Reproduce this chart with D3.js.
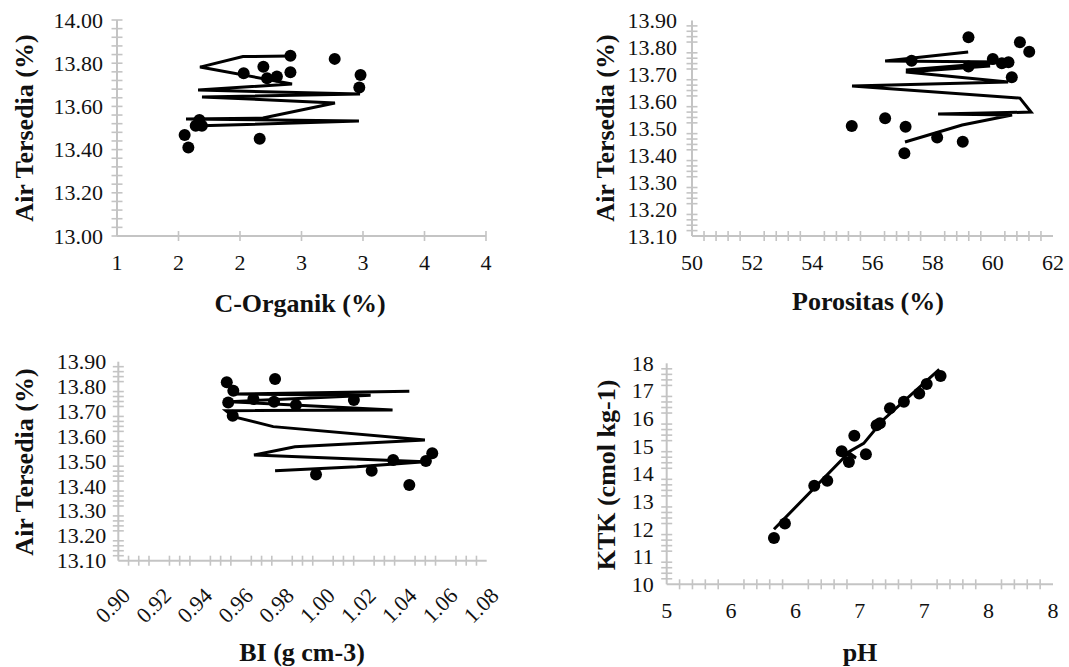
<!DOCTYPE html>
<html>
<head>
<meta charset="utf-8">
<script src="https://cdn.jsdelivr.net/npm/d3@7"></script>
<style>
  body { margin: 0; background: #fff; }
  svg { display: block; }
  text { font-family: "Liberation Serif", "Times New Roman", serif; fill: #111; }
</style>
</head>
<body>
<svg width="1069" height="667"></svg>
<script>
// C-Organik vs Air Tersedia
const cOrganikPoints = [
  [2.41, 13.835], [2.77, 13.82], [2.19, 13.784], [2.03, 13.753], [2.41, 13.758],
  [2.22, 13.73], [2.30, 13.738], [2.98, 13.745], [2.97, 13.688], [1.67, 13.537],
  [1.64, 13.51], [1.69, 13.51], [1.55, 13.468], [1.58, 13.41], [2.16, 13.45]
];
const cOrganikLine = [
  [2.407, 13.833], [2.024, 13.831], [1.675, 13.782], [2.423, 13.704], [1.659, 13.676],
  [2.976, 13.657], [1.691, 13.644], [2.772, 13.616], [2.187, 13.546], [1.561, 13.542],
  [2.967, 13.532], [1.610, 13.509]
];
const cOrganikXTicks = [1, 1.5, 2, 2.5, 3, 3.5, 4];
const cOrganikXLabels = ["1", "2", "2", "3", "3", "4", "4"];
const cOrganikYTicks = [13.0, 13.2, 13.4, 13.6, 13.8, 14.0];
const cOrganikYLabels = ["13.00", "13.20", "13.40", "13.60", "13.80", "14.00"];

// Porositas vs Air Tersedia
const porositasPoints = [
  [59.19, 13.838], [60.90, 13.819], [61.21, 13.784], [57.30, 13.751], [60.00, 13.757],
  [60.30, 13.741], [60.52, 13.745], [59.19, 13.729], [60.63, 13.689], [55.31, 13.508],
  [56.42, 13.537], [57.10, 13.506], [58.15, 13.466], [59.00, 13.450], [57.06, 13.407]
];
const porositasLine = [
  [59.18, 13.783], [56.42, 13.750], [60.41, 13.746], [57.11, 13.716], [59.91, 13.731],
  [57.11, 13.709], [60.51, 13.672], [55.32, 13.657], [60.90, 13.612], [61.27, 13.560],
  [58.18, 13.553], [60.64, 13.549], [58.98, 13.512], [57.08, 13.449]
];
const porositasXTicks = [50, 52, 54, 56, 58, 60, 62];
const porositasXLabels = ["50", "52", "54", "56", "58", "60", "62"];
const airYTicks = [13.1, 13.2, 13.3, 13.4, 13.5, 13.6, 13.7, 13.8, 13.9];
const airYLabels = ["13.10", "13.20", "13.30", "13.40", "13.50", "13.60", "13.70", "13.80", "13.90"];

// BI vs Air Tersedia
const biPoints = [
  [0.9530, 13.817], [0.9766, 13.830], [0.9562, 13.783], [0.9537, 13.736], [0.9660, 13.750],
  [0.9761, 13.739], [0.9868, 13.726], [1.0151, 13.746], [0.9559, 13.683], [1.0534, 13.532],
  [1.0343, 13.505], [1.0503, 13.501], [0.9966, 13.447], [1.0238, 13.462], [1.0422, 13.404]
];
const biLine = [
  [1.0422, 13.781], [0.9570, 13.770], [1.0233, 13.765], [0.9542, 13.739], [1.0340, 13.706],
  [0.9526, 13.703], [0.9562, 13.679], [0.9757, 13.639], [1.0498, 13.585], [0.9863, 13.558],
  [0.9663, 13.525], [1.0498, 13.498], [1.0165, 13.478], [0.9766, 13.462]
];
const biXTicks = [0.90, 0.92, 0.94, 0.96, 0.98, 1.00, 1.02, 1.04, 1.06, 1.08];
const biXLabels = ["0.90", "0.92", "0.94", "0.96", "0.98", "1.00", "1.02", "1.04", "1.06", "1.08"];

// pH vs KTK
const phPoints = [
  [5.833, 11.68], [5.918, 12.20], [6.146, 13.57], [6.247, 13.75], [6.359, 14.82],
  [6.415, 14.43], [6.457, 15.38], [6.547, 14.71], [6.630, 15.76], [6.656, 15.83],
  [6.734, 16.37], [6.842, 16.61], [6.961, 16.91], [7.019, 17.25], [7.127, 17.54]
];
const phLine = [
  [5.833, 11.99], [6.40, 14.70], [6.47, 14.58], [6.41, 14.78], [6.53, 15.10],
  [6.68, 15.95], [7.117, 17.78]
];
const phXTicks = [5, 5.5, 6, 6.5, 7, 7.5, 8];
const phXLabels = ["5", "6", "6", "7", "7", "8", "8"];
const ktkYTicks = [10, 11, 12, 13, 14, 15, 16, 17, 18];
const ktkYLabels = ["10", "11", "12", "13", "14", "15", "16", "17", "18"];

const svg = d3.select("svg");
const gridColor = "#c4c4c4";

function steps(lo, hi, step) {
  const n = Math.round((hi - lo) / step);
  return d3.range(n + 1).map(i => lo + i * step);
}

function drawPanel(p) {
  const x = d3.scaleLinear().domain(p.xDomain).range(p.xRange);
  const y = d3.scaleLinear().domain(p.yDomain).range(p.yRange);
  const g = svg.append("g");
  const y0 = y(p.yDomain[0]), x0 = x(p.xDomain[0]);
  const isMajor = (v, ticks) => ticks.some(t => Math.abs(t - v) < 1e-9);

  // x ticks
  let xt = p.xMinor ? steps(p.xDomain[0], p.xDomain[1], p.xMinor) : p.xTicks;
  if (p.xMinor) xt = xt.filter(v => !isMajor(v, p.xTicks));
  else xt = xt.filter(v => v !== p.xDomain[0]);
  g.selectAll(".xt").data(xt).enter().append("line")
    .attr("x1", d => x(d)).attr("x2", d => x(d))
    .attr("y1", y0 - 5).attr("y2", y0 + 5)
    .attr("stroke", gridColor).attr("stroke-width", 1.6);

  // y ticks
  let yt = steps(p.yDomain[0], p.yDomain[1], p.yMinor);
  if (p.skipYMajor) yt = yt.filter(v => !isMajor(v, p.yTicks));
  g.selectAll(".yt").data(yt).enter().append("line")
    .attr("x1", x0 - 5.5).attr("x2", x0 + 5.5)
    .attr("y1", d => y(d)).attr("y2", d => y(d))
    .attr("stroke", gridColor).attr("stroke-width", 1.6);

  // axis lines
  g.append("line").attr("x1", x0).attr("x2", x(p.xDomain[1]))
    .attr("y1", y0).attr("y2", y0).attr("stroke", gridColor).attr("stroke-width", 2);
  g.append("line").attr("x1", x0).attr("x2", x0)
    .attr("y1", y0).attr("y2", y(p.yDomain[1])).attr("stroke", gridColor).attr("stroke-width", 2);

  // y labels
  g.selectAll(".yl").data(p.yTicks).enter().append("text")
    .attr("x", x0 - p.yLabelGap).attr("y", d => y(d))
    .attr("text-anchor", "end").attr("dominant-baseline", "central")
    .attr("font-size", 22)
    .text((d, i) => p.yLabels[i]);

  // x labels
  if (p.rotateX) {
    g.selectAll(".xl").data(p.xTicks).enter().append("text")
      .attr("transform", d => `translate(${x(d) + 8},${y0 + 31}) rotate(-45)`)
      .attr("text-anchor", "end").attr("dominant-baseline", "central")
      .attr("font-size", 22)
      .text((d, i) => p.xLabels[i]);
  } else {
    g.selectAll(".xl").data(p.xTicks).enter().append("text")
      .attr("x", d => x(d)).attr("y", y0 + 26)
      .attr("text-anchor", "middle").attr("dominant-baseline", "central")
      .attr("font-size", 22)
      .text((d, i) => p.xLabels[i]);
  }

  // titles
  g.append("text").attr("x", p.xTitlePos[0]).attr("y", p.xTitlePos[1])
    .attr("text-anchor", "middle").attr("dominant-baseline", "central")
    .attr("font-size", 26).attr("font-weight", "bold").text(p.xTitle);
  g.append("text")
    .attr("transform", `translate(${p.yTitlePos[0]},${p.yTitlePos[1]}) rotate(-90)`)
    .attr("text-anchor", "middle").attr("dominant-baseline", "central")
    .attr("font-size", 26).attr("font-weight", "bold").text(p.yTitle);

  // line series
  g.append("path").datum(p.line)
    .attr("d", d3.line().x(d => x(d[0])).y(d => y(d[1])))
    .attr("fill", "none").attr("stroke", "#000").attr("stroke-width", 3)
    .attr("stroke-linejoin", "miter");

  // points
  g.selectAll(".pt").data(p.points).enter().append("circle")
    .attr("cx", d => x(d[0])).attr("cy", d => y(d[1])).attr("r", 6)
    .attr("fill", "#000");
}

drawPanel({
  xDomain: [1, 4], xRange: [117, 486], yDomain: [13, 14], yRange: [236, 20],
  xTicks: cOrganikXTicks, xLabels: cOrganikXLabels, xMinor: null,
  yTicks: cOrganikYTicks, yLabels: cOrganikYLabels, yMinor: 0.04, skipYMajor: false,
  yLabelGap: 14, points: cOrganikPoints, line: cOrganikLine,
  xTitle: "C-Organik (%)", xTitlePos: [300, 303],
  yTitle: "Air Tersedia (%)", yTitlePos: [24, 128]
});

drawPanel({
  xDomain: [50, 62], xRange: [692, 1053], yDomain: [13.1, 13.9], yRange: [236, 20.5],
  xTicks: porositasXTicks, xLabels: porositasXLabels, xMinor: 0.4,
  yTicks: airYTicks, yLabels: airYLabels, yMinor: 0.02, skipYMajor: true,
  yLabelGap: 15, points: porositasPoints, line: porositasLine,
  xTitle: "Porositas (%)", xTitlePos: [868, 301],
  yTitle: "Air Tersedia (%)", yTitlePos: [605, 128]
});

drawPanel({
  xDomain: [0.90, 1.08], xRange: [118.3, 486.7], yDomain: [13.1, 13.9], yRange: [560.7, 361.7],
  xTicks: biXTicks, xLabels: biXLabels, xMinor: 0.005, rotateX: true,
  yTicks: airYTicks, yLabels: airYLabels, yMinor: 0.02, skipYMajor: true,
  yLabelGap: 12, points: biPoints, line: biLine,
  xTitle: "BI (g cm-3)", xTitlePos: [302, 652],
  yTitle: "Air Tersedia (%)", yTitlePos: [24, 462]
});

drawPanel({
  xDomain: [5, 8], xRange: [666.7, 1053], yDomain: [10, 18], yRange: [584.3, 363.3],
  xTicks: phXTicks, xLabels: phXLabels, xMinor: 0.1,
  yTicks: ktkYTicks, yLabels: ktkYLabels, yMinor: 0.2, skipYMajor: true,
  yLabelGap: 13, points: phPoints, line: phLine,
  xTitle: "pH", xTitlePos: [860, 652],
  yTitle: "KTK (cmol kg-1)", yTitlePos: [606, 475]
});
</script>
</body>
</html>
